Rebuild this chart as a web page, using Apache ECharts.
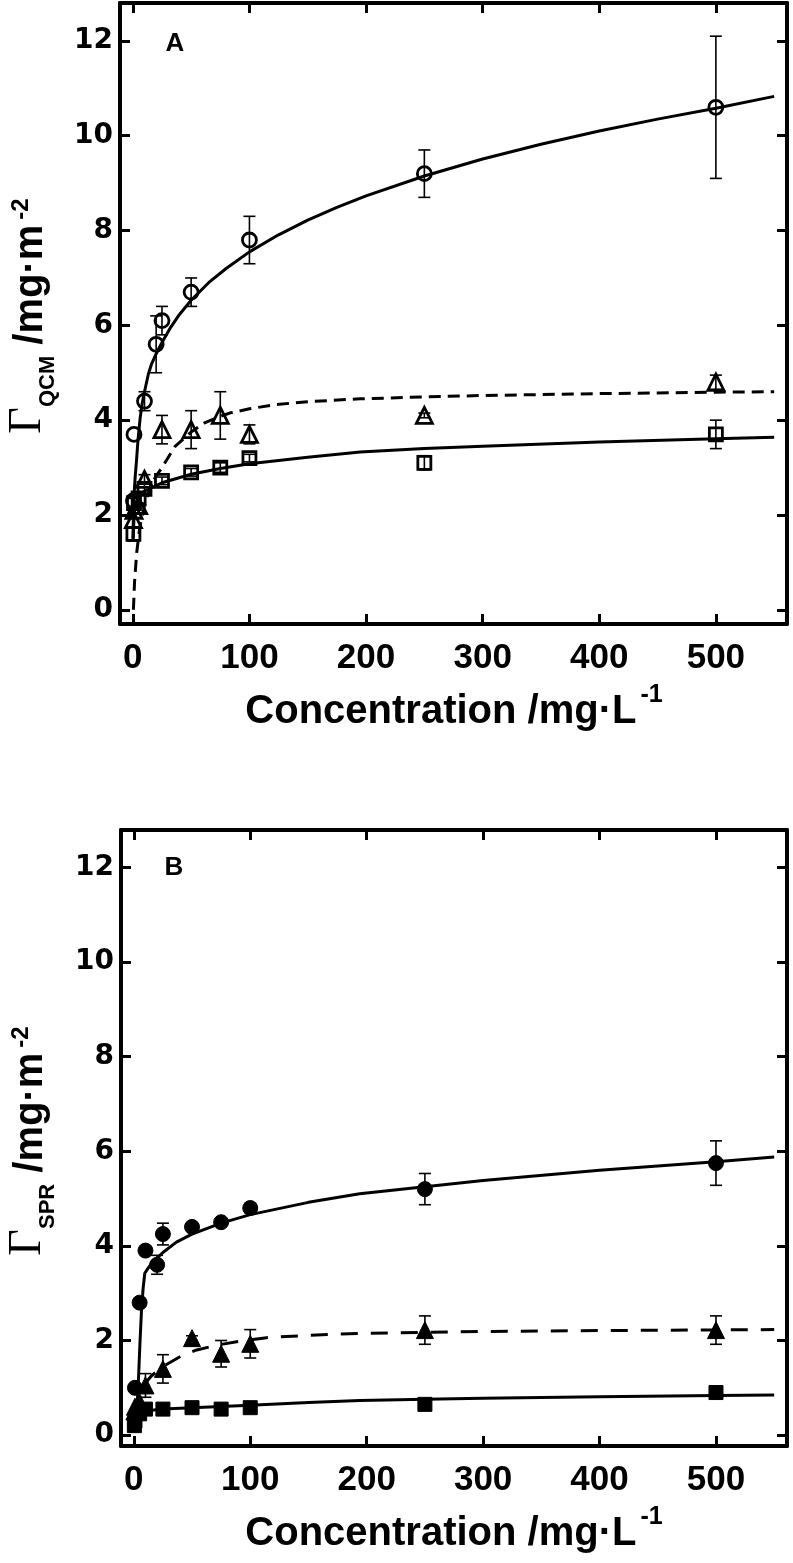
<!DOCTYPE html>
<html><head><meta charset="utf-8">
<script src="https://cdn.jsdelivr.net/npm/echarts@6/dist/echarts.min.js"></script>
<style>html,body{margin:0;padding:0;background:#fff}#c{width:793px;height:1563px}</style>
</head><body><div id="c"></div>
<script>
// ---- tick labels ----
const xTicks = [0, 100, 200, 300, 400, 500];
const yTicks = [0, 2, 4, 6, 8, 10, 12];

// ---- Panel A (QCM), open symbols ----
const qcmCircleX = [0.5, 1, 10, 20, 25, 50, 100, 250, 500];
const qcmCircleY = [2.3, 3.7, 4.4, 5.6, 6.1, 6.7, 7.8, 9.2, 10.6];
const qcmCircleErr = [0, 0, 0.2, 0.6, 0.3, 0.3, 0.5, 0.5, 1.5];

const qcmTriX = [0.5, 1, 5, 10, 25, 50, 75, 100, 250, 500];
const qcmTriY = [1.9, 2.1, 2.2, 2.75, 3.8, 3.8, 4.1, 3.7, 4.1, 4.8];
const qcmTriErr = [0, 0, 0, 0.1, 0.3, 0.4, 0.5, 0.2, 0.05, 0.15];

const qcmSqX = [0.5, 1, 5, 10, 25, 50, 75, 100, 250, 500];
const qcmSqY = [1.6, 2.25, 2.35, 2.55, 2.72, 2.9, 3.0, 3.2, 3.1, 3.7];
const qcmSqErr = [0.15, 0.1, 0.1, 0.1, 0.08, 0.08, 0.1, 0.08, 0.15, 0.3];

// fitted curves, points
const qcmCircleFitX = [0.1, 0.5, 1, 2, 3, 4.5, 6.3, 8, 10, 13.4, 16, 20, 25, 32, 40, 50, 65, 80, 100, 125, 150, 175, 200, 250, 300, 350, 400, 450, 500, 550];
const qcmCircleFitY = [1.5, 2.0, 2.4, 2.8, 3.1, 3.6, 4.05, 4.35, 4.6, 4.98, 5.18, 5.4, 5.64, 5.94, 6.23, 6.53, 6.9, 7.2, 7.55, 7.91, 8.22, 8.49, 8.73, 9.15, 9.51, 9.82, 10.1, 10.35, 10.58, 10.83];
const qcmTriFitX = [0.5, 1.5, 3.3, 6, 10, 15, 20, 25, 36, 50, 62, 75, 83, 100, 123, 150, 195, 250, 300, 400, 500, 550];
const qcmTriFitY = [0, 0.6, 1.2, 1.75, 2.2, 2.6, 2.82, 3.0, 3.44, 3.75, 3.95, 4.08, 4.15, 4.24, 4.33, 4.39, 4.45, 4.49, 4.52, 4.56, 4.59, 4.6];
const qcmSqFitX = [0.3, 1, 2, 5, 10, 25, 50, 75, 100, 150, 195, 250, 300, 400, 500, 550];
const qcmSqFitY = [1.5, 1.95, 2.2, 2.4, 2.5, 2.68, 2.86, 2.98, 3.08, 3.22, 3.33, 3.4, 3.45, 3.54, 3.61, 3.64];

// ---- Panel B (SPR), filled symbols ----
const sprCircleX = [1, 5, 10, 20, 25, 50, 75, 100, 250, 500];
const sprCircleY = [1.0, 2.8, 3.9, 3.6, 4.25, 4.4, 4.5, 4.8, 5.2, 5.75];
const sprCircleErr = [0, 0, 0.05, 0.2, 0.23, 0.05, 0.05, 0.1, 0.33, 0.47];

const sprTriX = [0.5, 1, 5, 10, 25, 50, 75, 100, 250, 500];
const sprTriY = [0.5, 0.6, 0.7, 1.05, 1.4, 2.05, 1.72, 1.93, 2.22, 2.22];
const sprTriErr = [0, 0, 0, 0.25, 0.3, 0.05, 0.28, 0.3, 0.3, 0.3];

const sprSqX = [0.5, 1, 5, 10, 25, 50, 75, 100, 250, 500];
const sprSqY = [0.2, 0.3, 0.45, 0.55, 0.55, 0.58, 0.55, 0.58, 0.65, 0.9];
const sprSqErr = [0, 0, 0, 0, 0, 0, 0, 0, 0, 0];

const sprCircleFitX = [1, 2.5, 3.7, 5.2, 6.6, 8, 9.4, 12, 15, 19.4, 25, 36.6, 50, 75, 100, 150, 194, 250, 300, 400, 500, 550];
const sprCircleFitY = [0.2, 0.5, 1.0, 1.9, 2.64, 3.1, 3.42, 3.52, 3.62, 3.73, 3.86, 4.08, 4.25, 4.48, 4.66, 4.92, 5.1, 5.25, 5.38, 5.6, 5.78, 5.88];
const sprTriFitX = [0.5, 2, 5, 10, 15, 25, 42, 54, 71, 90, 114, 150, 194, 250, 300, 400, 550];
const sprTriFitY = [0.45, 0.6, 0.8, 1.1, 1.25, 1.45, 1.69, 1.8, 1.9, 1.98, 2.06, 2.11, 2.15, 2.17, 2.19, 2.21, 2.23];
const sprSqFitX = [0.3, 1, 2, 5, 10, 25, 50, 100, 150, 194, 250, 300, 400, 500, 550];
const sprSqFitY = [0.15, 0.28, 0.36, 0.45, 0.51, 0.55, 0.58, 0.63, 0.69, 0.73, 0.76, 0.78, 0.81, 0.84, 0.85];

// ---- helpers ----
const pts = (xs, ys) => xs.map((x, i) => [x, ys[i]]);
const errs = (xs, ys, es) => xs.map((x, i) => [x, ys[i] - es[i], ys[i] + es[i]]).filter((d, i) => es[i] > 0);

const chart = echarts.init(document.getElementById('c'), null, {renderer: 'canvas'});

function xAxis(grid, pos, labels) {
  return {
    type: 'value', gridIndex: grid, position: pos, min: -11, max: 561,
    axisLine: {show: true, onZero: false, lineStyle: {color: '#000', width: 4}},
    axisTick: {show: true, inside: true, length: 10, lineStyle: {color: '#000', width: 3}, customValues: xTicks},
    axisLabel: {show: labels, customValues: xTicks, margin: 17, color: '#000',
      fontFamily: 'Liberation Sans', fontWeight: 'bold', fontSize: 35},
    splitLine: {show: false}
  };
}
function yAxis(grid, pos, labels, mn, mx) {
  return {
    type: 'value', gridIndex: grid, position: pos, min: mn, max: mx,
    axisLine: {show: true, onZero: false, lineStyle: {color: '#000', width: 4}},
    axisTick: {show: true, inside: true, length: 10, lineStyle: {color: '#000', width: 3}, customValues: yTicks},
    axisLabel: {show: labels, customValues: yTicks, margin: 7, color: '#000',
      fontFamily: 'DejaVu Sans', fontWeight: 'bold', fontSize: 28},
    splitLine: {show: false}
  };
}

function fitLine(xi, yi, xs, ys, dashed) {
  return {
    type: 'line', xAxisIndex: xi, yAxisIndex: yi, data: pts(xs, ys),
    showSymbol: false, symbol: 'none', smooth: false, silent: true, z: 1,
    lineStyle: {color: '#000', width: 3, type: dashed || 'solid', opacity: 1}
  };
}
function errBars(xi, yi, data) {
  return {
    type: 'custom', xAxisIndex: xi, yAxisIndex: yi, coordinateSystem: 'cartesian2d',
    data: data, encode: {x: 0, y: [1, 2]}, z: 2, silent: true,
    renderItem: function (params, api) {
      const x = api.value(0), lo = api.value(1), hi = api.value(2);
      const p1 = api.coord([x, lo]), p2 = api.coord([x, hi]);
      const hw = 6, st = {stroke: '#000', lineWidth: 1.6};
      return {type: 'group', children: [
        {type: 'line', shape: {x1: p1[0], y1: p1[1], x2: p2[0], y2: p2[1]}, style: st},
        {type: 'line', shape: {x1: p1[0] - hw, y1: p1[1], x2: p1[0] + hw, y2: p1[1]}, style: st},
        {type: 'line', shape: {x1: p2[0] - hw, y1: p2[1], x2: p2[0] + hw, y2: p2[1]}, style: st}
      ]};
    }
  };
}
function marks(xi, yi, xs, ys, symbol, size, filled) {
  return {
    type: 'scatter', xAxisIndex: xi, yAxisIndex: yi, data: pts(xs, ys), symbol: symbol, symbolSize: size,
    z: 3, silent: true,
    itemStyle: filled ? {color: '#000', borderColor: '#000', borderWidth: 1, opacity: 1}
                      : {color: 'rgba(255,255,255,0)', borderColor: '#000', borderWidth: 2.8, opacity: 1}
  };
}

const yTitleRich = {
  g: {fontFamily: 'Liberation Serif', fontSize: 46, lineHeight: 46, verticalAlign: 'bottom', padding: [0, 0, 8, 0], fill: '#000'},
  s: {fontFamily: 'Liberation Sans', fontWeight: 'bold', fontSize: 22, lineHeight: 22, verticalAlign: 'bottom', fill: '#000'},
  t: {fontFamily: 'Liberation Sans', fontWeight: 'bold', fontSize: 40, lineHeight: 40, verticalAlign: 'bottom', padding: [0, 0, 8, 0], fill: '#000'},
  p: {fontFamily: 'Liberation Sans', fontWeight: 'bold', fontSize: 24, lineHeight: 24, verticalAlign: 'bottom', padding: [0, 0, 26, 5], fill: '#000'}
};
const xTitleRich = {
  t: {fontFamily: 'Liberation Sans', fontWeight: 'bold', fontSize: 40, lineHeight: 40, verticalAlign: 'bottom', fill: '#000'},
  p: {fontFamily: 'Liberation Sans', fontWeight: 'bold', fontSize: 25, lineHeight: 25, verticalAlign: 'bottom', padding: [0, 0, 24, 4], fill: '#000'}
};
const letterFont = 'bold 26px "Liberation Sans"';

const option = {
  animation: false,
  backgroundColor: '#fff',
  grid: [
    {left: 120, top: 3, width: 667, height: 621},
    {left: 121, top: 830, width: 666, height: 616}
  ],
  xAxis: [xAxis(0, 'bottom', true), xAxis(0, 'top', false), xAxis(1, 'bottom', true), xAxis(1, 'top', false)],
  yAxis: [yAxis(0, 'left', true, -0.3, 12.8), yAxis(0, 'right', false, -0.3, 12.8),
          yAxis(1, 'left', true, -0.23, 12.79), yAxis(1, 'right', false, -0.23, 12.79)],
  series: [
    fitLine(0, 0, qcmCircleFitX, qcmCircleFitY),
    fitLine(0, 0, qcmTriFitX, qcmTriFitY, [12, 7]),
    fitLine(0, 0, qcmSqFitX, qcmSqFitY),
    errBars(0, 0, errs(qcmCircleX, qcmCircleY, qcmCircleErr)),
    errBars(0, 0, errs(qcmTriX, qcmTriY, qcmTriErr)),
    errBars(0, 0, errs(qcmSqX, qcmSqY, qcmSqErr)),
    marks(0, 0, qcmCircleX, qcmCircleY, 'circle', 14, false),
    marks(0, 0, qcmTriX, qcmTriY, 'triangle', 16, false),
    marks(0, 0, qcmSqX, qcmSqY, 'rect', 13, false),

    fitLine(2, 2, sprCircleFitX, sprCircleFitY),
    fitLine(2, 2, sprTriFitX, sprTriFitY, [17, 13]),
    fitLine(2, 2, sprSqFitX, sprSqFitY),
    errBars(2, 2, errs(sprCircleX, sprCircleY, sprCircleErr)),
    errBars(2, 2, errs(sprTriX, sprTriY, sprTriErr)),
    errBars(2, 2, errs(sprSqX, sprSqY, sprSqErr)),
    marks(2, 2, sprCircleX, sprCircleY, 'circle', 15, true),
    marks(2, 2, sprTriX, sprTriY, 'triangle', 17, true),
    marks(2, 2, sprSqX, sprSqY, 'rect', 14, true)
  ],
  graphic: [
    {type: 'text', x: 175, y: 44, style: {text: 'A', font: letterFont, fill: '#000', align: 'center', verticalAlign: 'middle'}},
    {type: 'text', x: 174, y: 868, style: {text: 'B', font: letterFont, fill: '#000', align: 'center', verticalAlign: 'middle'}},
    {type: 'text', x: 454, y: 712, style: {text: '{t|Concentration /mg·L}{p|-1}', rich: xTitleRich, align: 'center', verticalAlign: 'middle'}},
    {type: 'text', x: 454, y: 1534, style: {text: '{t|Concentration /mg·L}{p|-1}', rich: xTitleRich, align: 'center', verticalAlign: 'middle'}},
    {type: 'text', x: 36, y: 316, rotation: Math.PI / 2, style: {text: '{g|Γ}{s|QCM}{t| /mg·m}{p|-2}', rich: yTitleRich, align: 'center', verticalAlign: 'middle'}},
    {type: 'text', x: 36, y: 1141, rotation: Math.PI / 2, style: {text: '{g|Γ}{s|SPR}{t| /mg·m}{p|-2}', rich: yTitleRich, align: 'center', verticalAlign: 'middle'}}
  ]
};
chart.setOption(option);
</script></body></html>
